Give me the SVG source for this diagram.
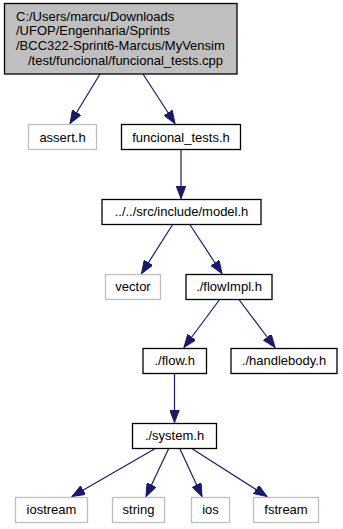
<svg xmlns="http://www.w3.org/2000/svg" width="343" height="529" viewBox="0 0 343 529">
  <style>
    text { font-family: "Liberation Sans", Arial, Helvetica, sans-serif; font-size: 13px; fill: #000000; }
    .c { text-anchor: middle; }
    .box { fill: #ffffff; stroke: #000000; stroke-width: 1.3; }
    .ext { fill: #ffffff; stroke: #bfbfbf; stroke-width: 1.3; }
    .root { fill: #bfbfbf; stroke: #000000; stroke-width: 1.3; }
    .edge { stroke: #191970; stroke-width: 1.2; fill: none; marker-end: url(#arrow); }
  </style>
  <defs>
    <marker id="arrow" markerUnits="userSpaceOnUse" markerWidth="14" markerHeight="10" refX="13" refY="5" orient="auto">
      <path d="M0,0 L13,5 L0,10 z" fill="#191970" stroke="#191970" stroke-width="1"/>
    </marker>
  </defs>

  <g id="connectors">
    <line class="edge" x1="100" y1="74" x2="70" y2="123.5"/>
    <line class="edge" x1="143" y1="74" x2="175" y2="123.5"/>
    <line class="edge" x1="181" y1="150" x2="181" y2="198.5"/>
    <line class="edge" x1="173" y1="224" x2="141.5" y2="273.5"/>
    <line class="edge" x1="189.5" y1="224" x2="222" y2="273.5"/>
    <line class="edge" x1="220" y1="299" x2="184" y2="347.5"/>
    <line class="edge" x1="238.5" y1="299" x2="275" y2="347.5"/>
    <line class="edge" x1="174.5" y1="374" x2="174.5" y2="422.5"/>
    <line class="edge" x1="154.5" y1="449" x2="72" y2="496.5"/>
    <line class="edge" x1="168.5" y1="449" x2="146" y2="496.5"/>
    <line class="edge" x1="180" y1="449" x2="202" y2="496.5"/>
    <line class="edge" x1="192.5" y1="449" x2="267" y2="496.5"/>
  </g>

  <g id="node-root">
    <rect class="root" x="4.5" y="3.5" width="232.5" height="70.5"/>
    <text x="16" y="20.7">C:/Users/marcu/Downloads</text>
    <text x="16" y="35.4">/UFOP/Engenharia/Sprints</text>
    <text x="16" y="50.2">/BCC322-Sprint6-Marcus/MyVensim</text>
    <text class="c" x="125.5" y="65">/test/funcional/funcional_tests.cpp</text>
  </g>

  <g id="node-assert">
    <rect class="ext" x="28.5" y="124.5" width="68" height="25"/>
    <text class="c" x="62.5" y="141.5">assert.h</text>
  </g>

  <g id="node-funcional-tests">
    <rect class="box" x="121.5" y="124.5" width="119" height="25"/>
    <text class="c" x="181" y="141.5">funcional_tests.h</text>
  </g>

  <g id="node-model">
    <rect class="box" x="102" y="199.5" width="159" height="25"/>
    <text class="c" x="181.5" y="216">../../src/include/model.h</text>
  </g>

  <g id="node-vector">
    <rect class="ext" x="105.5" y="274.5" width="55" height="25"/>
    <text class="c" x="133" y="291">vector</text>
  </g>

  <g id="node-flowimpl">
    <rect class="box" x="186" y="274.5" width="86" height="25"/>
    <text class="c" x="229" y="291">./flowImpl.h</text>
  </g>

  <g id="node-flow">
    <rect class="box" x="143" y="348.5" width="63.5" height="25"/>
    <text class="c" x="174.7" y="365">./flow.h</text>
  </g>

  <g id="node-handlebody">
    <rect class="box" x="231" y="348.5" width="106" height="25"/>
    <text class="c" x="284" y="365">./handlebody.h</text>
  </g>

  <g id="node-system">
    <rect class="box" x="132.5" y="423.5" width="84" height="25"/>
    <text class="c" x="174.5" y="440">./system.h</text>
  </g>

  <g id="node-iostream">
    <rect class="ext" x="15.5" y="497.5" width="72" height="25"/>
    <text class="c" x="51.5" y="514">iostream</text>
  </g>

  <g id="node-string">
    <rect class="ext" x="112.5" y="497.5" width="52" height="25"/>
    <text class="c" x="138.5" y="514">string</text>
  </g>

  <g id="node-ios">
    <rect class="ext" x="191.5" y="497.5" width="38" height="25"/>
    <text class="c" x="210.5" y="514">ios</text>
  </g>

  <g id="node-fstream">
    <rect class="ext" x="253.5" y="497.5" width="65" height="25"/>
    <text class="c" x="286" y="514">fstream</text>
  </g>
</svg>
